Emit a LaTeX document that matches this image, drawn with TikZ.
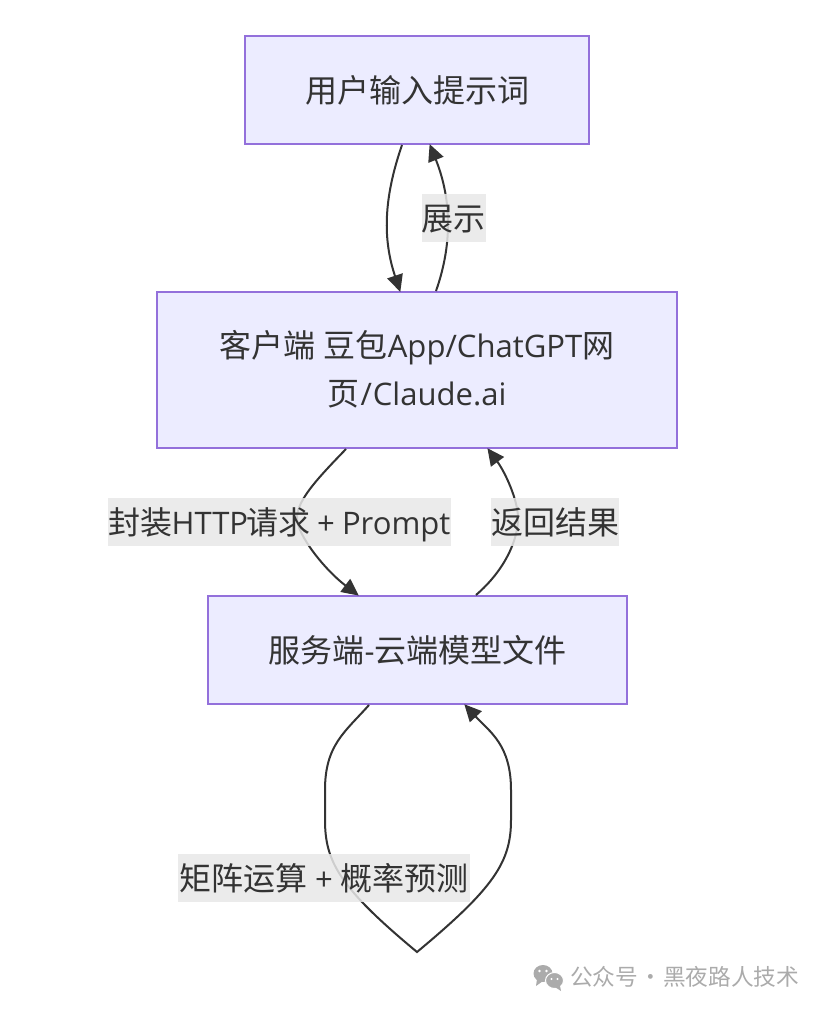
\documentclass[tikz,border=0pt]{standalone}
\usepackage{fontspec}
\setmainfont{Noto Sans CJK SC}
\newfontfamily\latinfont[Scale=0.97]{Open Sans}
\usepackage{xcolor}
\definecolor{BoxFill}{HTML}{ECECFF}
\definecolor{BoxLine}{HTML}{9370DB}
\definecolor{EdgeInk}{HTML}{333333}
\definecolor{LabelFill}{HTML}{E8E8E8}
\definecolor{MarkGray}{HTML}{ABABAB}
\usetikzlibrary{calc, arrows.meta}
\newcommand{\lat}[1]{{\latinfont #1}}

\begin{document}
\begin{tikzpicture}[x=1pt, y=-1pt,
    box/.style={draw=BoxLine, line width=2pt, fill=BoxFill, text=EdgeInk, align=center, font=\fontsize{32}{48}\selectfont, inner sep=0pt, text height=34pt, text depth=10pt},
    edge/.style={draw=EdgeInk, line width=2pt, -{Triangle[length=17pt, width=16pt]}, shorten >=-1pt},
    edgelabel/.style={fill=LabelFill, fill opacity=0.85, text opacity=1, text=EdgeInk, font=\fontsize{32}{48}\selectfont, inner sep=0pt, minimum height=48pt, text height=34pt, text depth=10pt}]
        \useasboundingbox (0,0) rectangle (824,1010);

        \node[box, minimum width=344pt, minimum height=108pt] (user) at (417,90) {用户输入提示词};
        \node[box, minimum width=520pt, minimum height=156pt, text height=80pt] (client) at (417,370) {客户端\lat{ }豆包\lat{App/ChatGPT}网\\页\kern1pt\lat{/\kern1ptClaude.ai}};
        \node[box, minimum width=419pt, minimum height=108pt] (server) at (417.5,650) {服务端\lat{-}云端模型文件};

        % ends of the connectors on the box borders
        \coordinate (userout) at ($(user.south)+(-15,0)$);
        \coordinate (userin) at ($(user.south)+(13,0)$);
        \coordinate (clientin) at ($(client.north)+(-17,0)$);
        \coordinate (clientout) at ($(client.north)+(19,0)$);
        \coordinate (clientdown) at ($(client.south)+(-71,0)$);
        \coordinate (clientback) at ($(client.south)+(71,0)$);
        \coordinate (serverin) at ($(server.north)+(-59.5,0)$);
        \coordinate (serverout) at ($(server.north)+(58.5,0)$);
        \coordinate (loopout) at ($(server.south)+(-48.5,0)$);
        \coordinate (loopin) at ($(server.south)+(47.5,0)$);
        \coordinate (loopend) at (417,952);

        \draw[edge] (userout) .. controls (383,200) and (383,240) .. (clientin);
        \draw[edge] (clientout) .. controls (454,240) and (450,195) .. (userin);
        \draw[edge] (clientdown) .. controls (318,478) and (297,500) .. (297,518) .. controls (297,535) and (325,570) .. (serverin);
        \draw[edge] (serverout) .. controls (505,570) and (518,540) .. (518,518) .. controls (518,500) and (505,472) .. (clientback);
        \draw[edge] (loopout) .. controls (345,732) and (325,745) .. (325,790) -- (325,820) .. controls (325,862) and (340,888) .. (loopend)
            .. controls (494,888) and (511,862) .. (511,820) -- (511,790) .. controls (511,745) and (490,732) .. (loopin);

        \node[edgelabel, minimum width=63pt] (showlabel) at (453.5,218) {展示};
        \node[edgelabel, minimum width=343pt] (httplabel) at (279.5,522) {封装\kern-1pt\lat{HTTP}\kern-2pt请求\kern-1pt\lat{ + \kern-1ptPrompt}};
        \node[edgelabel, minimum width=128pt] (backlabel) at (555,522) {返回结果};
        \node[edgelabel, minimum width=292pt] (looplabel) at (324,878) {矩阵运算\lat{ + }概率预测};

        % watermark
        \fill[MarkGray] (543,973.5) ellipse (9.5 and 8.5);
        \fill[MarkGray] (537,979) -- (536,986) -- (543,981) -- cycle;
        \fill[MarkGray, draw=white, line width=1pt] (554.5,980.5) ellipse (9 and 8);
        \fill[MarkGray] (560,986) -- (561,991) -- (555,987) -- cycle;
        \fill[white] (539.5,971) circle (1.4) (546.5,971) circle (1.4) (551.5,979) circle (1.2) (557.5,979) circle (1.2);
        \node[text=MarkGray, font=\fontsize{22.7}{26}\selectfont, inner sep=0pt, anchor=west] (marktext) at (570,977) {公众号\kern1pt·\kern1pt黑夜路人技术};
    \end{tikzpicture}
\end{document}
